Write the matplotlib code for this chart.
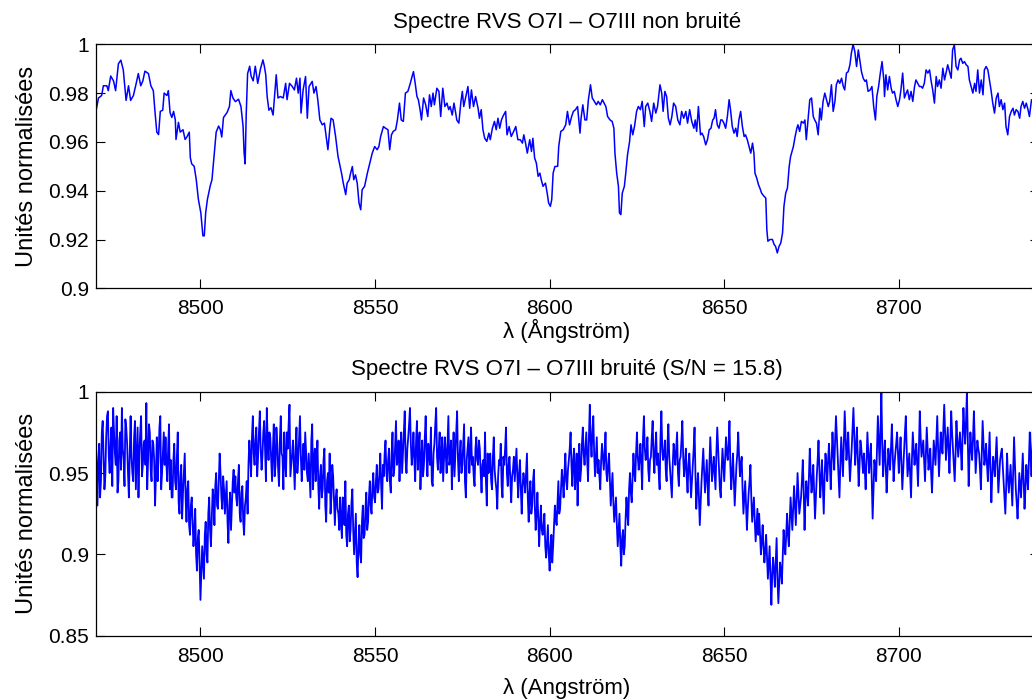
import numpy as np
import matplotlib
matplotlib.use("Agg")
import matplotlib.pyplot as plt
from matplotlib.ticker import FormatStrFormatter

plt.rcParams['font.family'] = ['Liberation Sans', 'DejaVu Sans']

# spectre non bruite
wl_clean = [
    8470.0, 8470.8, 8471.7, 8472.2, 8473.2, 8473.6, 8474.3, 8475.1, 8475.7, 8476.5,
    8477.2, 8477.9, 8478.7, 8479.4, 8480.0, 8480.8, 8481.6, 8482.2, 8482.9, 8483.5,
    8484.1, 8485.1, 8485.8, 8486.5, 8487.0, 8487.5, 8488.0, 8488.5, 8489.2, 8489.6,
    8490.4, 8490.8, 8491.3, 8491.8, 8492.3, 8492.8, 8493.0, 8493.7, 8494.2, 8495.0,
    8495.6, 8496.1, 8496.8, 8497.1, 8497.5, 8498.2, 8498.8, 8499.4, 8500.1, 8500.7,
    8501.1, 8501.5, 8502.0, 8502.8, 8503.3, 8503.9, 8504.5, 8505.2, 8505.7, 8506.1,
    8506.6, 8507.6, 8508.3, 8508.7, 8509.3, 8510.0, 8510.9, 8511.6, 8512.2, 8512.5,
    8512.8, 8513.1, 8513.5, 8514.1, 8514.5, 8515.1, 8515.7, 8516.4, 8517.2, 8517.9,
    8518.3, 8518.7, 8519.1, 8519.6, 8520.2, 8520.8, 8521.2, 8521.7, 8522.2, 8522.9,
    8523.7, 8524.4, 8524.8, 8525.5, 8526.3, 8526.9, 8527.5, 8528.0, 8528.5, 8528.8,
    8529.4, 8530.1, 8530.6, 8531.1, 8532.0, 8532.5, 8533.1, 8533.6, 8534.2, 8534.9,
    8535.5, 8536.0, 8536.5, 8537.1, 8537.4, 8538.0, 8538.7, 8539.4, 8539.9, 8540.4,
    8540.9, 8541.6, 8542.0, 8542.6, 8543.0, 8543.5, 8543.9, 8544.4, 8544.9, 8545.4,
    8545.9, 8546.3, 8547.0, 8547.8, 8548.5, 8549.2, 8549.9, 8550.6, 8551.1, 8551.6,
    8552.4, 8553.0, 8553.7, 8554.2, 8554.7, 8555.2, 8555.9, 8556.4, 8557.0, 8557.5,
    8558.1, 8558.7, 8559.4, 8560.1, 8560.6, 8561.0, 8561.5, 8562.0, 8562.4, 8562.9,
    8563.3, 8563.9, 8564.5, 8565.1, 8565.6, 8566.1, 8566.6, 8567.0, 8567.7, 8568.3,
    8568.8, 8569.4, 8570.0, 8570.6, 8571.1, 8571.5, 8572.1, 8572.6, 8573.1, 8573.4,
    8574.0, 8574.6, 8575.0, 8575.4, 8575.9, 8576.6, 8577.1, 8577.6, 8578.2, 8578.8,
    8579.5, 8579.9, 8580.4, 8580.9, 8581.4, 8582.0, 8582.6, 8583.0, 8583.6, 8584.2,
    8584.7, 8585.2, 8585.7, 8586.2, 8586.6, 8587.4, 8587.8, 8588.4, 8589.0, 8589.7,
    8590.3, 8590.9, 8591.6, 8592.2, 8592.6, 8593.1, 8593.6, 8594.3, 8594.8, 8595.2,
    8595.7, 8596.2, 8596.7, 8597.2, 8597.6, 8598.1, 8598.8, 8599.3, 8599.7, 8600.2,
    8600.6, 8601.0, 8601.5, 8602.3, 8602.6, 8603.2, 8603.9, 8604.6, 8605.1, 8605.7,
    8606.3, 8606.8, 8607.4, 8608.0, 8608.7, 8609.0, 8609.5, 8610.1, 8610.6, 8611.1,
    8611.7, 8612.2, 8612.8, 8613.4, 8613.9, 8614.5, 8615.1, 8615.6, 8616.1, 8616.6,
    8617.3, 8617.9, 8618.4, 8618.7, 8619.2, 8619.7, 8620.0, 8620.4, 8620.8, 8621.4,
    8621.8, 8622.3, 8622.9, 8623.3, 8623.8, 8624.3, 8624.9, 8625.4, 8626.0, 8626.5,
    8627.1, 8627.5, 8628.1, 8628.7, 8629.2, 8629.8, 8630.4, 8630.9, 8631.6, 8632.1,
    8632.5, 8633.0, 8633.5, 8634.0, 8634.5, 8635.0, 8635.5, 8636.1, 8636.7, 8637.3,
    8637.8, 8638.4, 8639.0, 8639.5, 8640.1, 8640.7, 8641.3, 8641.7, 8642.1, 8642.6,
    8643.2, 8643.6, 8644.1, 8644.7, 8645.2, 8645.7, 8646.2, 8646.7, 8647.1, 8647.5,
    8648.0, 8648.5, 8649.0, 8649.4, 8649.9, 8650.4, 8650.9, 8651.4, 8651.8, 8652.3,
    8652.8, 8653.3, 8653.7, 8654.2, 8654.7, 8655.2, 8655.7, 8656.1, 8656.6, 8657.1,
    8657.6, 8658.1, 8658.5, 8658.8, 8659.3, 8659.8, 8660.2, 8660.7, 8661.4, 8661.9,
    8662.2, 8662.5, 8663.1, 8663.8, 8664.3, 8664.7, 8665.2, 8665.7, 8666.2, 8666.7,
    8667.1, 8667.6, 8668.1, 8668.6, 8669.0, 8669.8, 8670.3, 8670.8, 8671.1, 8671.6,
    8672.1, 8672.7, 8673.1, 8673.5, 8674.0, 8674.5, 8675.0, 8675.5, 8675.9, 8676.4,
    8676.9, 8677.4, 8677.8, 8678.3, 8678.8, 8679.3, 8679.8, 8680.2, 8680.7, 8681.2,
    8681.7, 8682.1, 8682.6, 8683.1, 8683.6, 8684.1, 8684.5, 8685.0, 8685.5, 8686.0,
    8686.4, 8686.9, 8687.4, 8687.9, 8688.4, 8688.8, 8689.3, 8689.8, 8690.3, 8690.7,
    8691.2, 8691.8, 8692.3, 8692.8, 8693.3, 8693.7, 8694.2, 8694.7, 8695.2, 8695.7,
    8695.9, 8696.3, 8696.8, 8697.3, 8697.8, 8698.2, 8698.7, 8699.2, 8699.7, 8700.2,
    8700.6, 8701.1, 8701.6, 8702.1, 8702.5, 8703.0, 8703.5, 8704.0, 8704.5, 8704.9,
    8705.4, 8705.9, 8706.4, 8706.8, 8707.3, 8707.8, 8708.3, 8708.8, 8709.2, 8709.7,
    8710.2, 8710.7, 8711.1, 8711.6, 8712.1, 8712.6, 8713.1, 8713.5, 8714.0, 8714.5,
    8715.0, 8715.4, 8715.9, 8716.4, 8716.9, 8717.4, 8717.8, 8718.3, 8718.8, 8719.3,
    8719.8, 8720.2, 8720.7, 8721.2, 8721.7, 8722.1, 8722.6, 8723.1, 8723.6, 8724.1,
    8724.5, 8725.0, 8725.5, 8726.0, 8726.4, 8726.9, 8727.4, 8727.9, 8728.4, 8728.8,
    8729.3, 8729.8, 8730.3, 8730.7, 8731.2, 8731.7, 8732.2, 8732.7, 8733.1, 8733.6,
    8734.1, 8734.6, 8735.0, 8735.5, 8736.0, 8736.5, 8737.0, 8737.4, 8738.0, 8739.0,
    8740.0,
]
flux_clean = [
    0.972, 0.978, 0.979, 0.983, 0.983, 0.981, 0.987, 0.985, 0.981, 0.992,
    0.9935, 0.9895, 0.977, 0.983, 0.977, 0.979, 0.984, 0.988, 0.983, 0.985,
    0.989, 0.988, 0.983, 0.981, 0.972, 0.964, 0.963, 0.9725, 0.973, 0.980,
    0.979, 0.981, 0.972, 0.970, 0.9725, 0.969, 0.961, 0.968, 0.964, 0.965,
    0.961, 0.962, 0.964, 0.9535, 0.951, 0.950, 0.9445, 0.9365, 0.931, 0.9215,
    0.9215, 0.931, 0.9365, 0.942, 0.9445, 0.954, 0.964, 0.9665, 0.965, 0.962,
    0.970, 0.972, 0.9745, 0.981, 0.978, 0.9765, 0.9775, 0.9745, 0.9665, 0.9555,
    0.951, 0.971, 0.988, 0.991, 0.987, 0.985, 0.991, 0.984, 0.990, 0.9936,
    0.991, 0.9875, 0.9786, 0.973, 0.974, 0.971, 0.9786, 0.9875, 0.978, 0.9786,
    0.978, 0.984, 0.9773, 0.984, 0.9827, 0.9813, 0.9861, 0.980, 0.9861, 0.9718,
    0.9813, 0.9868, 0.9697, 0.9827, 0.9848, 0.980, 0.9827, 0.9773, 0.969, 0.967,
    0.9677, 0.9622, 0.9568, 0.9663, 0.9697, 0.969, 0.9622, 0.954, 0.9506, 0.9472,
    0.9431, 0.9384, 0.9431, 0.9445, 0.9472, 0.9499, 0.9445, 0.9465, 0.9431, 0.935,
    0.9322, 0.9404, 0.9418, 0.9472, 0.9513, 0.9554, 0.9581, 0.9568, 0.9581, 0.9622,
    0.9663, 0.9656, 0.965, 0.9568, 0.9629, 0.9643, 0.965, 0.969, 0.9759, 0.969,
    0.9684, 0.980, 0.9807, 0.984, 0.9868, 0.9888, 0.984, 0.9786, 0.9773, 0.9732,
    0.969, 0.978, 0.9752, 0.9704, 0.9793, 0.9745, 0.980, 0.9752, 0.982, 0.9807,
    0.9704, 0.982, 0.9745, 0.9759, 0.9732, 0.9745, 0.971, 0.9759, 0.9718, 0.969,
    0.9677, 0.9766, 0.9807, 0.9745, 0.978, 0.9827, 0.9738, 0.9813, 0.9745, 0.9786,
    0.9738, 0.9697, 0.9732, 0.965, 0.9615, 0.9602, 0.9636, 0.9609, 0.9656, 0.9684,
    0.965, 0.9697, 0.9656, 0.969, 0.9704, 0.9725, 0.9629, 0.9663, 0.9622, 0.9643,
    0.9663, 0.9609, 0.9609, 0.9595, 0.9629, 0.9595, 0.9554, 0.9609, 0.9561, 0.9615,
    0.9534, 0.9513, 0.9459, 0.9472, 0.9445, 0.9418, 0.9431, 0.939, 0.935, 0.9336,
    0.9363, 0.9472, 0.9499, 0.950, 0.9581, 0.9643, 0.965, 0.967, 0.9725, 0.967,
    0.9704, 0.9725, 0.9732, 0.9745, 0.9636, 0.9697, 0.9752, 0.969, 0.969, 0.9773,
    0.9834, 0.978, 0.9766, 0.9752, 0.9766, 0.9752, 0.9773, 0.9759, 0.9745, 0.9704,
    0.969, 0.9684, 0.9656, 0.9554, 0.9472, 0.9418, 0.9309, 0.9302, 0.939, 0.9418,
    0.9472, 0.9547, 0.9602, 0.967, 0.9629, 0.9663, 0.9725, 0.9745, 0.9732, 0.9766,
    0.9663, 0.9745, 0.9759, 0.9725, 0.9684, 0.9759, 0.9718, 0.9745, 0.9834, 0.980,
    0.9725, 0.9807, 0.9786, 0.9697, 0.967, 0.9704, 0.9759, 0.9745, 0.969, 0.967,
    0.9725, 0.9697, 0.9725, 0.9677, 0.9732, 0.9684, 0.9656, 0.969, 0.9643, 0.9745,
    0.9629, 0.9636, 0.9622, 0.9588, 0.9609, 0.965, 0.9656, 0.969, 0.9697, 0.9732,
    0.967, 0.9656, 0.969, 0.969, 0.9677, 0.9656, 0.9704, 0.9773, 0.9732, 0.9663,
    0.9636, 0.9656, 0.9622, 0.969, 0.9725, 0.9663, 0.9622, 0.9629, 0.9609, 0.9581,
    0.9554, 0.9595, 0.9554, 0.9472, 0.9452, 0.9425, 0.9411, 0.939, 0.9377, 0.937,
    0.924, 0.9193, 0.920, 0.920, 0.9179, 0.9172, 0.9145, 0.9172, 0.9186, 0.9227,
    0.9336, 0.939, 0.9411, 0.9499, 0.954, 0.9581, 0.9622, 0.9656, 0.967, 0.9643,
    0.9684, 0.9677, 0.969, 0.9609, 0.969, 0.9773, 0.978, 0.9704, 0.969, 0.9677,
    0.9629, 0.9738, 0.969, 0.9766, 0.980, 0.9773, 0.9745, 0.9766, 0.9834, 0.9725,
    0.9766, 0.9834, 0.9854, 0.984, 0.9861, 0.9827, 0.9813, 0.9882, 0.9888, 0.9916,
    0.9963, 1.000, 0.997, 0.9909, 0.9977, 0.9936, 0.9888, 0.9861, 0.9848, 0.9854,
    0.9807, 0.9813, 0.9827, 0.9745, 0.969, 0.9786, 0.9827, 0.9882, 0.9929, 0.9854,
    0.9786, 0.9875, 0.9813, 0.9868, 0.982, 0.980, 0.9807, 0.9773, 0.9745, 0.9773,
    0.9813, 0.9882, 0.978, 0.980, 0.9813, 0.9773, 0.9807, 0.9766, 0.9827, 0.9854,
    0.984, 0.9827, 0.9827, 0.982, 0.984, 0.9895, 0.9882, 0.9895, 0.9854, 0.9813,
    0.9759, 0.9868, 0.9827, 0.9854, 0.982, 0.9902, 0.9854, 0.9882, 0.9916, 0.9888,
    0.9861, 0.9977, 0.9998, 0.9909, 0.9895, 0.9936, 0.9943, 0.9922, 0.9929, 0.9916,
    0.9909, 0.9854, 0.9827, 0.980, 0.984, 0.9807, 0.9895, 0.980, 0.9854, 0.9793,
    0.9895, 0.9909, 0.9895, 0.9848, 0.9813, 0.9759, 0.9718, 0.978, 0.980, 0.9745,
    0.9773, 0.9732, 0.9759, 0.9663, 0.9629, 0.9704, 0.9725, 0.9738, 0.971, 0.9732,
    0.9725, 0.9697, 0.9745, 0.9766, 0.9738, 0.9759, 0.9732, 0.9704, 0.9773, 0.974,
    0.975,
]

# spectre bruite : points a 8470.0, 8470.5, ... 8740.0
flux_noisy = [
    0.975, 0.930, 0.968, 0.945, 0.982, 0.940, 0.972, 0.988, 0.950, 0.978, 0.990, 0.962, 0.985, 0.945, 0.975, 0.990, 0.958, 0.983, 0.968, 0.935,
    0.985, 0.950, 0.972, 0.940, 0.978, 0.962, 0.985, 0.955, 0.970, 0.993, 0.958, 0.975, 0.945, 0.968, 0.930, 0.972, 0.960, 0.985, 0.950, 0.975,
    0.972, 0.945, 0.980, 0.958, 0.935, 0.968, 0.940, 0.975, 0.925, 0.955, 0.938, 0.962, 0.920, 0.945, 0.912, 0.935, 0.905, 0.928, 0.890, 0.915,
    0.872, 0.905, 0.885, 0.920, 0.895, 0.935, 0.905, 0.940, 0.918, 0.950, 0.928, 0.962, 0.935, 0.948, 0.925, 0.945, 0.907, 0.938, 0.930, 0.952,
    0.948, 0.930, 0.955, 0.920, 0.942, 0.912, 0.935, 0.925, 0.970, 0.948, 0.985, 0.955, 0.978, 0.960, 0.988, 0.952, 0.975, 0.965, 0.990, 0.958,
    0.972, 0.945, 0.980, 0.955, 0.968, 0.942, 0.985, 0.960, 0.975, 0.948, 0.965, 0.992, 0.955, 0.970, 0.940, 0.978, 0.958, 0.985, 0.945, 0.968,
    0.975, 0.950, 0.962, 0.935, 0.980, 0.958, 0.945, 0.970, 0.928, 0.955, 0.940, 0.965, 0.920, 0.950, 0.962, 0.935, 0.948, 0.918, 0.940, 0.925,
    0.935, 0.910, 0.928, 0.945, 0.905, 0.930, 0.915, 0.940, 0.900, 0.925, 0.886, 0.918, 0.895, 0.930, 0.912, 0.938, 0.920, 0.945, 0.925, 0.950,
    0.932, 0.955, 0.940, 0.962, 0.928, 0.948, 0.970, 0.945, 0.965, 0.938, 0.975, 0.952, 0.982, 0.958, 0.945, 0.975, 0.962, 0.988, 0.950, 0.972,
    0.990, 0.955, 0.975, 0.945, 0.982, 0.965, 0.940, 0.970, 0.955, 0.985, 0.948, 0.962, 0.978, 0.942, 0.968, 0.990, 0.952, 0.975, 0.960, 0.945,
    0.972, 0.950, 0.985, 0.958, 0.940, 0.975, 0.962, 0.988, 0.945, 0.970, 0.955, 0.980, 0.935, 0.965, 0.950, 0.978, 0.960, 0.942, 0.972, 0.955,
    0.965, 0.938, 0.958, 0.975, 0.930, 0.950, 0.962, 0.940, 0.972, 0.945, 0.928, 0.958, 0.968, 0.935, 0.955, 0.978, 0.942, 0.960, 0.932, 0.952,
    0.945, 0.965, 0.935, 0.958, 0.925, 0.950, 0.938, 0.962, 0.920, 0.945, 0.930, 0.952, 0.915, 0.938, 0.905, 0.930, 0.912, 0.925, 0.898, 0.918,
    0.890, 0.912, 0.905, 0.930, 0.918, 0.945, 0.928, 0.952, 0.935, 0.962, 0.940, 0.958, 0.975, 0.942, 0.965, 0.950, 0.930, 0.968, 0.952, 0.978,
    0.955, 0.975, 0.945, 0.992, 0.960, 0.985, 0.948, 0.972, 0.958, 0.940, 0.968, 0.952, 0.975, 0.945, 0.962, 0.930, 0.950, 0.920, 0.935, 0.905,
    0.925, 0.893, 0.915, 0.905, 0.935, 0.918, 0.950, 0.932, 0.962, 0.945, 0.975, 0.952, 0.968, 0.940, 0.985, 0.958, 0.972, 0.945, 0.960, 0.982,
    0.950, 0.975, 0.962, 0.940, 0.988, 0.958, 0.970, 0.945, 0.980, 0.952, 0.935, 0.968, 0.955, 0.975, 0.942, 0.960, 0.982, 0.948, 0.965, 0.938,
    0.962, 0.935, 0.955, 0.978, 0.928, 0.950, 0.918, 0.945, 0.965, 0.938, 0.958, 0.930, 0.972, 0.945, 0.960, 0.940, 0.978, 0.952, 0.935, 0.965,
    0.945, 0.972, 0.958, 0.982, 0.940, 0.962, 0.930, 0.955, 0.975, 0.948, 0.960, 0.925, 0.945, 0.915, 0.938, 0.955, 0.920, 0.935, 0.908, 0.928,
    0.925, 0.900, 0.918, 0.895, 0.912, 0.885, 0.905, 0.869, 0.898, 0.880, 0.910, 0.870, 0.895, 0.882, 0.915, 0.900, 0.925, 0.905, 0.935, 0.915,
    0.942, 0.918, 0.950, 0.925, 0.935, 0.958, 0.915, 0.945, 0.930, 0.965, 0.938, 0.955, 0.922, 0.948, 0.970, 0.935, 0.958, 0.925, 0.962, 0.945,
    0.968, 0.940, 0.975, 0.952, 0.985, 0.960, 0.935, 0.972, 0.948, 0.988, 0.958, 0.975, 0.945, 0.965, 0.990, 0.955, 0.978, 0.942, 0.970, 0.958,
    0.962, 0.940, 0.975, 0.950, 0.968, 0.922, 0.958, 0.945, 0.985, 0.955, 1.000, 0.948, 0.970, 0.938, 0.965, 0.952, 0.980, 0.945, 0.962, 0.975,
    0.950, 0.972, 0.940, 0.965, 0.985, 0.948, 0.962, 0.935, 0.975, 0.955, 0.968, 0.942, 0.988, 0.960, 0.970, 0.945, 0.978, 0.952, 0.965, 0.938,
    0.970, 0.955, 0.985, 0.948, 0.975, 0.962, 0.992, 0.958, 0.978, 0.950, 0.988, 0.965, 0.945, 0.982, 0.960, 0.975, 0.952, 0.990, 0.968, 1.000,
    0.942, 0.975, 0.958, 0.988, 0.950, 0.970, 0.962, 0.940, 0.982, 0.955, 0.968, 0.945, 0.975, 0.932, 0.960, 0.948, 0.972, 0.938, 0.958, 0.965,
    0.945, 0.925, 0.962, 0.938, 0.955, 0.930, 0.972, 0.940, 0.922, 0.950, 0.935, 0.962, 0.928, 0.955, 0.940, 0.975, 0.948, 0.985, 0.958, 0.970,
    0.960,
]
# spectre bruite : points a 8470.25, 8470.75, ... 8739.75
flux_noisy_mid = [
    0.952, 0.958, 0.935, 0.975, 0.962, 0.948, 0.985, 0.960, 0.968, 0.942, 0.975, 0.955, 0.938, 0.970, 0.952, 0.965, 0.942, 0.978, 0.950, 0.962,
    0.960, 0.945, 0.982, 0.958, 0.935, 0.975, 0.948, 0.968, 0.955, 0.940, 0.980, 0.952, 0.970, 0.958, 0.948, 0.945, 0.978, 0.940, 0.962, 0.955,
    0.955, 0.965, 0.940, 0.935, 0.958, 0.945, 0.960, 0.932, 0.948, 0.922, 0.950, 0.935, 0.940, 0.918, 0.930, 0.920, 0.915, 0.900, 0.910, 0.895,
    0.888, 0.895, 0.912, 0.900, 0.925, 0.915, 0.922, 0.935, 0.942, 0.930, 0.945, 0.950, 0.928, 0.940, 0.935, 0.920, 0.930, 0.915, 0.945, 0.938,
    0.935, 0.945, 0.925, 0.938, 0.920, 0.930, 0.945, 0.955, 0.960, 0.972, 0.962, 0.970, 0.948, 0.975, 0.965, 0.960, 0.982, 0.945, 0.970, 0.975,
    0.958, 0.965, 0.948, 0.978, 0.952, 0.970, 0.962, 0.940, 0.958, 0.975, 0.980, 0.948, 0.962, 0.955, 0.965, 0.950, 0.972, 0.960, 0.958, 0.952,
    0.962, 0.945, 0.948, 0.970, 0.940, 0.965, 0.955, 0.942, 0.948, 0.935, 0.958, 0.930, 0.945, 0.938, 0.925, 0.955, 0.932, 0.935, 0.928, 0.915,
    0.920, 0.935, 0.918, 0.912, 0.925, 0.908, 0.932, 0.915, 0.912, 0.895, 0.905, 0.900, 0.920, 0.910, 0.928, 0.915, 0.935, 0.930, 0.942, 0.935,
    0.945, 0.938, 0.950, 0.942, 0.955, 0.962, 0.950, 0.958, 0.945, 0.962, 0.948, 0.968, 0.955, 0.970, 0.962, 0.950, 0.975, 0.958, 0.965, 0.980,
    0.968, 0.962, 0.958, 0.970, 0.952, 0.975, 0.958, 0.948, 0.972, 0.960, 0.968, 0.955, 0.945, 0.962, 0.980, 0.960, 0.965, 0.950, 0.972, 0.958,
    0.962, 0.968, 0.955, 0.970, 0.960, 0.948, 0.975, 0.958, 0.962, 0.950, 0.968, 0.945, 0.958, 0.972, 0.962, 0.955, 0.948, 0.965, 0.958, 0.970,
    0.950, 0.955, 0.948, 0.945, 0.962, 0.958, 0.945, 0.960, 0.952, 0.940, 0.948, 0.955, 0.942, 0.960, 0.965, 0.950, 0.955, 0.945, 0.948, 0.960,
    0.955, 0.948, 0.950, 0.940, 0.942, 0.945, 0.950, 0.935, 0.938, 0.925, 0.945, 0.930, 0.925, 0.922, 0.920, 0.915, 0.918, 0.905, 0.908, 0.900,
    0.905, 0.895, 0.918, 0.922, 0.932, 0.925, 0.940, 0.945, 0.950, 0.945, 0.952, 0.965, 0.955, 0.958, 0.940, 0.962, 0.955, 0.945, 0.968, 0.962,
    0.965, 0.958, 0.972, 0.970, 0.975, 0.962, 0.960, 0.950, 0.948, 0.958, 0.960, 0.962, 0.950, 0.955, 0.945, 0.940, 0.932, 0.928, 0.918, 0.915,
    0.905, 0.910, 0.900, 0.922, 0.925, 0.940, 0.938, 0.948, 0.950, 0.962, 0.960, 0.958, 0.955, 0.972, 0.965, 0.962, 0.952, 0.958, 0.972, 0.960,
    0.965, 0.955, 0.950, 0.972, 0.965, 0.962, 0.952, 0.968, 0.960, 0.945, 0.955, 0.962, 0.965, 0.950, 0.958, 0.970, 0.960, 0.955, 0.948, 0.955,
    0.948, 0.945, 0.965, 0.950, 0.940, 0.935, 0.932, 0.955, 0.950, 0.948, 0.942, 0.955, 0.958, 0.952, 0.950, 0.962, 0.965, 0.940, 0.952, 0.955,
    0.958, 0.962, 0.968, 0.955, 0.950, 0.945, 0.942, 0.962, 0.960, 0.955, 0.940, 0.935, 0.930, 0.928, 0.945, 0.935, 0.928, 0.920, 0.918, 0.912,
    0.912, 0.908, 0.905, 0.902, 0.898, 0.895, 0.885, 0.888, 0.890, 0.895, 0.885, 0.882, 0.890, 0.898, 0.905, 0.912, 0.912, 0.920, 0.925, 0.928,
    0.930, 0.935, 0.938, 0.930, 0.945, 0.940, 0.932, 0.938, 0.948, 0.950, 0.945, 0.938, 0.935, 0.958, 0.952, 0.945, 0.942, 0.948, 0.955, 0.958,
    0.955, 0.958, 0.962, 0.970, 0.972, 0.948, 0.955, 0.960, 0.968, 0.972, 0.965, 0.960, 0.955, 0.978, 0.972, 0.965, 0.960, 0.955, 0.965, 0.950,
    0.952, 0.958, 0.962, 0.960, 0.945, 0.940, 0.952, 0.965, 0.970, 0.975, 0.968, 0.960, 0.955, 0.950, 0.958, 0.965, 0.962, 0.955, 0.968, 0.962,
    0.962, 0.955, 0.952, 0.975, 0.965, 0.955, 0.948, 0.958, 0.965, 0.962, 0.955, 0.965, 0.972, 0.965, 0.958, 0.962, 0.965, 0.958, 0.950, 0.955,
    0.962, 0.970, 0.965, 0.962, 0.968, 0.978, 0.975, 0.968, 0.965, 0.970, 0.975, 0.955, 0.962, 0.970, 0.968, 0.965, 0.972, 0.978, 0.982, 0.970,
    0.960, 0.965, 0.972, 0.968, 0.960, 0.965, 0.952, 0.962, 0.968, 0.960, 0.955, 0.960, 0.952, 0.948, 0.955, 0.960, 0.955, 0.948, 0.962, 0.955,
    0.935, 0.942, 0.948, 0.946, 0.942, 0.950, 0.955, 0.932, 0.935, 0.942, 0.948, 0.945, 0.940, 0.948, 0.958, 0.960, 0.965, 0.970, 0.965, 0.960,
]

xticks = [8500, 8550, 8600, 8650, 8700]
yticks_top = [0.9, 0.92, 0.94, 0.96, 0.98, 1.0]
yticks_bot = [0.85, 0.9, 0.95, 1.0]

# grille 0.25 A : les deux listes lues s'alternent
wl_noisy = np.arange(8470.0, 8740.01, 0.25)
flux_noisy_all = np.empty(len(wl_noisy))
flux_noisy_all[0::2] = flux_noisy
flux_noisy_all[1::2] = flux_noisy_mid

W, H = 1032, 700
left = 95.7 / W
width = (1038.5 - 95.7) / W
h = 244.0 / H

fig = plt.figure(figsize=(W / 100, H / 100), dpi=100)
ax1 = fig.add_axes([left, 1 - 288.3 / H, width, h])
ax2 = fig.add_axes([left, 1 - 635.7 / H, width, h])


def style(ax, yticks, ylim, fmt):
    ax.set_xlim(8470, 8740)
    ax.set_ylim(*ylim)
    ax.set_xticks(xticks)
    ax.set_yticks(yticks)
    ax.yaxis.set_major_formatter(FormatStrFormatter(fmt))
    ax.tick_params(direction='in', length=6.5, width=0.8, top=True, right=True,
                   labelsize=15, pad=8)
    ax.tick_params(axis='y', pad=5)
    for s in ax.spines.values():
        s.set_linewidth(0.9)
    ax.set_ylabel('Unités normalisées', fontsize=17, labelpad=7)


ax1.plot(wl_clean, flux_clean, color='#0000ff', lw=1.1)
style(ax1, yticks_top, (0.9, 1.0), '%g')
ax1.set_title('Spectre RVS O7I – O7III non bruité', fontsize=16, pad=12)
ax1.set_xlabel('λ (Ångström)', fontsize=16, labelpad=0)

ax2.plot(wl_noisy, flux_noisy_all, color='#0000ff', lw=1.3)
style(ax2, yticks_bot, (0.85, 1.0), '%g')
ax2.set_title('Spectre RVS O7I – O7III bruité (S/N = 15.8)', fontsize=16, pad=12)
ax2.set_xlabel('λ (Angström)', fontsize=16, labelpad=9)

fig.savefig('out.png', dpi=100)
